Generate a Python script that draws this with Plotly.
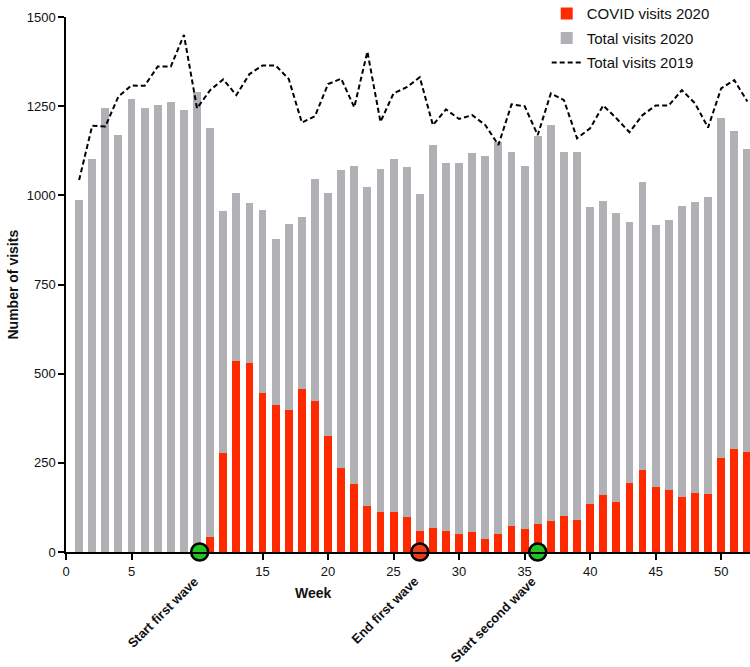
import plotly.graph_objects as go

weeks = list(range(1, 53))
total_2020 = [987, 1103, 1244, 1170, 1270, 1246, 1253, 1262, 1238, 1289,
              1190, 955, 1006, 978, 959, 878, 920, 940, 1045, 1007,
              1071, 1081, 1022, 1074, 1101, 1079, 1004, 1140, 1090, 1090,
              1118, 1111, 1150, 1121, 1083, 1166, 1197, 1121, 1121, 968,
              983, 950, 925, 1036, 917, 930, 971, 981, 995, 1217,
              1179, 1129]
covid_2020 = [0, 0, 0, 0, 0, 0, 0, 0, 0, 0,
              43, 277, 536, 529, 445, 412, 398, 456, 423, 325,
              235, 190, 130, 111, 111, 99, 59, 67, 59, 50,
              55, 36, 50, 73, 65, 79, 87, 101, 91, 135,
              160, 139, 193, 230, 183, 174, 153, 165, 163, 264,
              288, 281]
total_2019 = [1043, 1195, 1193, 1277, 1308, 1307, 1361, 1361, 1450, 1244,
              1295, 1325, 1281, 1340, 1364, 1364, 1326, 1204, 1222, 1312,
              1327, 1247, 1403, 1206, 1286, 1303, 1331, 1197, 1241, 1214,
              1225, 1197, 1141, 1255, 1250, 1169, 1286, 1267, 1160, 1188,
              1252, 1216, 1177, 1225, 1252, 1252, 1295, 1258, 1190, 1300,
              1323, 1263]
event_weeks = [10.2, 27, 36]
event_labels = ["Start first wave", "End first wave", "Start second wave"]
event_colors = ["#22c322", "#f03a1e", "#22c322"]
x_tickvals = [0, 5, 15, 20, 25, 30, 35, 40, 45, 50]
y_tickvals = [0, 250, 500, 750, 1000, 1250, 1500]

FONT = "Liberation Sans, Arial, sans-serif"
GRAY = "#b1b1b5"
RED = "#ff2a00"

fig = go.Figure()
fig.add_trace(go.Bar(x=weeks, y=total_2020, name="Total visits 2020",
                     marker=dict(color=GRAY, line=dict(width=0)), width=0.6,
                     legendrank=2, legendgroup="b"))
fig.add_trace(go.Bar(x=weeks, y=covid_2020, name="COVID visits 2020",
                     marker=dict(color=RED, line=dict(width=0)), width=0.6,
                     legendrank=1, legendgroup="a"))
fig.add_trace(go.Scatter(x=weeks, y=total_2019, name="Total visits 2019",
                         mode="lines", line=dict(color="black", width=2, dash="5px,3px"),
                         legendrank=3, legendgroup="c"))
fig.add_trace(go.Scatter(x=event_weeks, y=[0] * len(event_weeks), mode="markers",
                         marker=dict(size=17, color=event_colors,
                                     line=dict(color="black", width=2.5)),
                         cliponaxis=False, showlegend=False, hoverinfo="skip"))

for wk, lab in zip(event_weeks, event_labels):
    fig.add_annotation(x=wk, y=0, xref="x", yref="y", text=f"<b>{lab}</b>",
                       textangle=-45, showarrow=False, xanchor="right", yanchor="top",
                       xshift=4, yshift=-19, font=dict(family=FONT, size=13, color="#111"))

fig.add_annotation(x=18.9, y=0, xref="x", yref="y", text="<b>Week</b>", showarrow=False,
                   xanchor="center", yanchor="middle", yshift=-41,
                   font=dict(family=FONT, size=14, color="#111"))
fig.add_annotation(x=0, y=0.5, xref="paper", yref="paper", text="<b>Number of visits</b>",
                   textangle=-90, showarrow=False, xanchor="center", yanchor="middle",
                   xshift=-54, font=dict(family=FONT, size=14, color="#111"))

fig.update_layout(
    width=750, height=667,
    margin=dict(l=66, r=0, t=17, b=115, autoexpand=False),
    paper_bgcolor="white", plot_bgcolor="white",
    barmode="overlay", bargap=0,
    font=dict(family=FONT, color="#111"),
    showlegend=True,
    legend=dict(x=0.7028, y=1.037, xref="paper", yref="paper",
                xanchor="left", yanchor="top", bgcolor="rgba(0,0,0,0)",
                font=dict(family=FONT, size=15, color="#111"),
                tracegroupgap=2, itemwidth=30),
    xaxis=dict(range=[0, 52.2], tickvals=x_tickvals, ticks="outside", ticklen=6,
               tickwidth=1.5, tickcolor="black", showline=True, linecolor="black",
               linewidth=1.5, showgrid=False, zeroline=False, ticklabelstandoff=1,
               tickfont=dict(family=FONT, size=13, color="#111"),
               tickprefix="<b>", ticksuffix="</b>"),
    yaxis=dict(range=[0, 1500], tickvals=y_tickvals, ticks="outside", ticklen=6,
               tickwidth=1.5, tickcolor="black", showline=True, linecolor="black",
               linewidth=1.5, showgrid=False, zeroline=False,
               tickfont=dict(family=FONT, size=13, color="#111"),
               tickprefix="<b>", ticksuffix="</b>"),
)

fig.write_html("out.html", config={"displayModeBar": False},
               post_script="document.body.style.margin='0';document.body.style.overflow='hidden';")
